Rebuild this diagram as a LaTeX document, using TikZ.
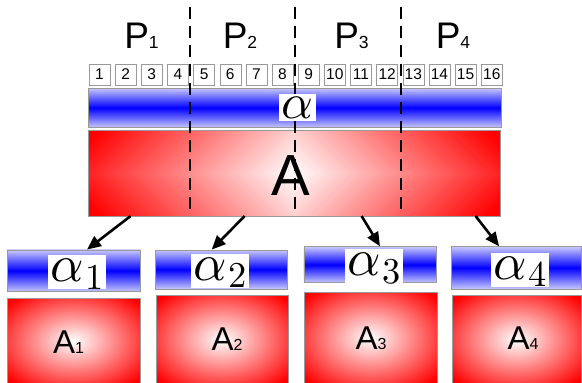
\documentclass[tikz,border=0pt]{standalone}
\usepackage[no-math]{fontspec}
\setmainfont{Liberation Sans}
\DeclareFontShape{OML}{cmm}{m}{it}{<->cmmi10}{}
\DeclareFontShape{OT1}{cmr}{m}{n}{<->cmr10}{}
\usetikzlibrary{arrows.meta,calc}
\pgfdeclareradialshading{redbox}{\pgfpoint{0bp}{0bp}}{color(0bp)=(white); color(33bp)=(red); color(50bp)=(red)}
\tikzset{
 numbox/.style={draw=gray!80, fill=white, minimum width=21pt, minimum height=21pt, inner sep=0pt, font=\fontsize{15.5}{16}\selectfont},
 bluebox/.style={draw=gray!80, line width=0.8pt, top color=blue!22!white, bottom color=blue!22!white, middle color=blue, inner sep=0pt},
 redrect/.style={draw=gray!80, line width=0.8pt, shade, shading=redbox, inner sep=0pt},
 alab/.style={fill=white, anchor=base, inner xsep=3pt, inner ysep=0.5pt, text height=26pt, text depth=7pt, font=\fontsize{52}{52}\selectfont},
 sepline/.style={line width=2pt, dash pattern=on 12pt off 7pt},
 arr/.style={line width=2.6pt, -{Triangle[length=14pt,width=12pt]}},
 plab/.style={anchor=base, inner sep=0pt},
}
\newcommand{\plabel}[1]{\fontsize{37}{37}\selectfont P\fontsize{17.5}{18}\selectfont #1}
\newcommand{\alabel}[1]{\fontsize{33}{33}\selectfont A\fontsize{16}{16}\selectfont #1}
\newcommand{\alphasub}[1]{$\alpha$\kern1pt\raisebox{-7.5pt}{\fontsize{36.4}{36}\selectfont$#1$}}
\begin{document}
\begin{tikzpicture}[x=1pt,y=-1pt]
\useasboundingbox (0,0) rectangle (582,383);
% big red bar with diamond gradient
\begin{scope}
 \clip (88,130) rectangle (500,216.7);
 \foreach \k in {0,...,60}{
  \pgfmathsetmacro\r{260*(1-\k/60)}
  \pgfmathsetmacro\p{min(100,\r/2.4)}
  \fill[red!\p!white] ({294-\r},173.3) -- (294,{173.3-\r}) -- ({294+\r},173.3) -- (294,{173.3+\r}) -- cycle;
 }
\end{scope}
\node[draw=gray!80, line width=0.8pt, minimum width=412pt, minimum height=86.7pt, inner sep=0pt] (Abar) at (294,173.3) {};
\node[plab, font=\fontsize{58}{58}\selectfont] (Alab) at (291,195) {A};
% blue bar
\node[bluebox, minimum width=413pt, minimum height=39.5pt] (alphabar) at (294.5,107.75) {};
% numbered boxes
\foreach \i in {1,...,16}{
 \node[numbox] (n\i) at ({99.5+(\i-1)*26.15},74.5) {\i};
}
% P labels
\node[plab] (p1) at (141.5,48.5) {\plabel{1}};
\node[plab] (p2) at (240,48.5) {\plabel{2}};
\node[plab] (p3) at (351.5,48.5) {\plabel{3}};
\node[plab] (p4) at (453,48.5) {\plabel{4}};
% dashed separators
\foreach \x in {190,295,400.7}{
 \draw[sepline] (\x,6.7) -- (\x,212);
}
\node[fill=white, inner sep=3pt, font=\fontsize{49.5}{50}\selectfont] (alpha) at (297.5,107.5) {$\alpha$};
% lower blue boxes
\node[bluebox, minimum width=133pt, minimum height=41.7pt] (a1) at (73.5,270.8) {};
\node[bluebox, minimum width=132pt, minimum height=39pt] (a2) at (221.7,269.5) {};
\node[bluebox, minimum width=132.7pt, minimum height=36pt] (a3) at (370.3,264.7) {};
\node[bluebox, minimum width=129.8pt, minimum height=42.3pt] (a4) at (516.6,267.8) {};
\node[alab] (la1) at (77,281.7) {\alphasub{1}};
\node[alab] (la2) at (220,280) {\alphasub{2}};
\node[alab] (la3) at (374,275.5) {\alphasub{3}};
\node[alab] (la4) at (520,279.3) {\alphasub{4}};
% lower red boxes
\node[redrect, minimum width=133pt, minimum height=86pt] (b1) at (73.5,341) {};
\node[redrect, minimum width=132pt, minimum height=89pt] (b2) at (222,339.5) {};
\node[redrect, minimum width=133pt, minimum height=92pt] (b3) at (370.5,338) {};
\node[redrect, minimum width=129.5pt, minimum height=89pt] (b4) at (516.8,339.5) {};
\node[plab] (lb1) at (68.5,353.3) {\alabel{1}};
\node[plab] (lb2) at (227,350) {\alabel{2}};
\node[plab] (lb3) at (371,349) {\alabel{3}};
\node[plab] (lb4) at (523,349) {\alabel{4}};
% arrows
\draw[arr] ($(Abar.south west)+(43,-1)$) -- ($(a1.north)+(13.5,0)$);
\draw[arr] ($(Abar.south west)+(157,-1)$) -- ($(a2.north)+(-10,0)$);
\draw[arr] ($(Abar.south west)+(274,-1)$) -- ($(a3.north)+(9.7,0)$);
\draw[arr] ($(Abar.south west)+(388,-1)$) -- ($(a4.north)+(-17.5,0)$);
\end{tikzpicture}
\end{document}
